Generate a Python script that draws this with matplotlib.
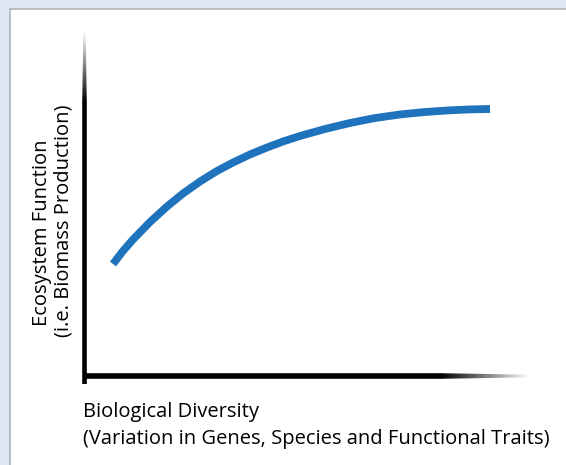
import numpy as np
import matplotlib
matplotlib.use('Agg')
import matplotlib.pyplot as plt
from matplotlib.patches import Rectangle, Polygon

# curve values (diversity 0-1 on x, ecosystem function 0-1 on y)
diversity = [0.0629, 0.0854, 0.1079, 0.1461, 0.1843, 0.2202, 0.2584, 0.2966, 0.3326,
             0.3708, 0.4090, 0.4449, 0.4831, 0.5393, 0.5955, 0.6517, 0.7079, 0.7640,
             0.8202, 0.8652, 0.9101]
function = [0.3295, 0.3671, 0.4003, 0.4509, 0.4957, 0.5332, 0.5679, 0.5983, 0.6228,
            0.6460, 0.6662, 0.6835, 0.6994, 0.7197, 0.7370, 0.7514, 0.7616, 0.7688,
            0.7737, 0.7763, 0.7775]

xlabel_lines = ['Biological Diversity', '(Variation in Genes, Species and Functional Traits)']
ylabel_lines = ['Ecosystem Function', '(i.e. Biomass Production)']

W, H = 566, 465
fig = plt.figure(figsize=(W/100, H/100), dpi=100)
fig.patch.set_facecolor('#dde8f2')

# white panel with grey top/left edge
fig.patches.append(Rectangle((9/W, 0), 1, 1 - 8/H, transform=fig.transFigure,
                             facecolor='#b9bdc2', edgecolor='none', zorder=-2))
fig.patches.append(Rectangle((11/W, 0), 1, 1 - 10/H, transform=fig.transFigure,
                             facecolor='white', edgecolor='none', zorder=-1))

AW, AH = 445, 346   # pixels per unit along x / y
M = 10              # margin (px) left of and below the origin so the axis bars are not clipped
ax = fig.add_axes([(85 - M)/W, (H - 378 - M)/H, (AW + M)/W, (AH + M)/H])

def fade_axis(horizontal, start, end, centre, w0, w1, solid):
    # black bar that thins and fades to white over its last part
    t = np.linspace(0, 1, 400)
    g = 1 - np.clip((1 - t) / (1 - solid), 0, 1)
    s = start + (end - start) * solid
    scale = AH if horizontal else AW
    h0, h1 = w0 / 2 / scale, w1 / 2 / scale
    pad = 1 / scale
    along = [start, s, end, end, s, start]
    across = [centre - h0, centre - h0, centre - h1, centre + h1, centre + h0, centre + h0]
    if horizontal:
        img = np.tile(g[None, :], (8, 1))
        ext = (start, end, centre - h0 - pad, centre + h0 + pad)
        pts = list(zip(along, across))
    else:
        img = np.tile(g[:, None], (1, 8))
        ext = (centre - h0 - pad, centre + h0 + pad, start, end)
        pts = list(zip(across, along))
    im = ax.imshow(img, cmap='gray', vmin=0, vmax=1, extent=ext, origin='lower',
                   aspect='auto', interpolation='nearest')
    im.set_clip_path(Polygon(pts, closed=True, transform=ax.transData))

# y axis fades toward the top, x axis toward the right
fade_axis(False, -6/AH, 1.0, -0.5/AW, 4.6, 2.4, 0.80)
fade_axis(True, -2.5/AW, 1.0, 2/AH, 5.6, 2.6, 0.80)

ax.plot(diversity, function, color='#1f73bd', lw=5.6, solid_capstyle='butt',
        solid_joinstyle='round', clip_on=False)

ax.set_xlim(-M/AW, 1)
ax.set_ylim(-M/AH, 1)
ax.axis('off')

font = 'Open Sans'
fs = 14.5
fig.text(83/W, 1 - 417/H, xlabel_lines[0], family=font, fontsize=fs, va='baseline', ha='left')
fig.text(83/W, 1 - 444/H, xlabel_lines[1], family=font, fontsize=fs, va='baseline', ha='left')
fig.text(47/W, 1 - 326/H, ylabel_lines[0], family=font, fontsize=fs, rotation=90,
         rotation_mode='anchor', va='baseline', ha='left')
fig.text(68/W, 1 - 337/H, ylabel_lines[1], family=font, fontsize=fs, rotation=90,
         rotation_mode='anchor', va='baseline', ha='left')

fig.savefig('out.png', dpi=100, facecolor=fig.get_facecolor())
